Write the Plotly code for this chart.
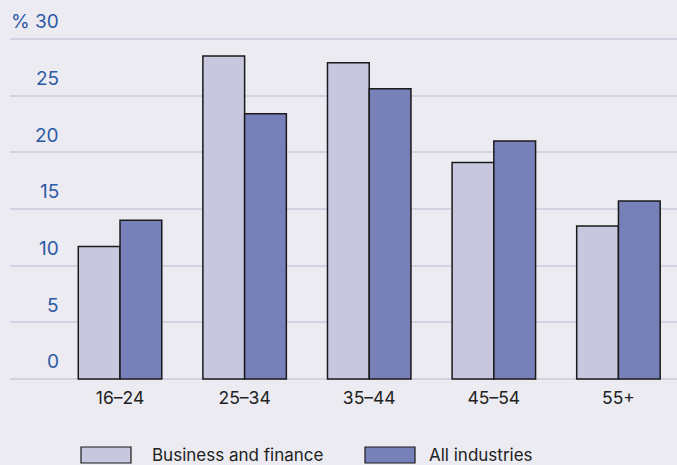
import plotly.graph_objects as go

# Share of employees by age band (%)
age_bands = ["16–24", "25–34", "35–44", "45–54", "55+"]
business_finance = [11.7, 28.5, 27.9, 19.1, 13.5]
all_industries = [14.0, 23.4, 25.6, 21.0, 15.7]
y_ticks = [0, 5, 10, 15, 20, 25, 30]
y_tick_labels = ["0", "5", "10", "15", "20", "25", "% 30"]

LIGHT = "#c7c7df"
DARK = "#7880b9"
BG = "#ecebf2"
GRID = "#d3d1e3"
BLUE_TEXT = "#2d5aa5"
FONT = "Inter"

W, H = 677, 465
ML, MR, MT, MB = 10, 0, 30, 80
PW, PH = W - ML - MR, H - MT - MB


def px_x(px):
    return (px - ML) / PW


def px_y(py):
    return (H - MB - py) / PH


xs = list(range(len(age_bands)))

fig = go.Figure()
fig.add_trace(go.Bar(
    x=xs, y=business_finance, name="Business and finance",
    marker=dict(color=LIGHT, line=dict(color="#1a1a1a", width=1.5)),
))
fig.add_trace(go.Bar(
    x=xs, y=all_industries, name="All industries",
    marker=dict(color=DARK, line=dict(color="#1a1a1a", width=1.5)),
))

# y tick labels sit above their gridlines
annotations = []
for v, t in zip(y_ticks, y_tick_labels):
    annotations.append(dict(
        x=px_x(61), xref="paper", xanchor="right",
        y=v, yref="y", yanchor="middle", yshift=17,
        text=t, showarrow=False,
        font=dict(family=FONT, size=19, color=BLUE_TEXT),
    ))

# legend drawn as wide swatches beneath the chart
legend_items = [("Business and finance", LIGHT, 81, 150), ("All industries", DARK, 365, 427)]
shapes = []
for name, col, x0, tx in legend_items:
    shapes.append(dict(
        type="rect", xref="paper", yref="paper",
        x0=px_x(x0), x1=px_x(x0 + 50), y0=px_y(463), y1=px_y(447),
        fillcolor=col, line=dict(color="#1a1a1a", width=1.2),
    ))
    annotations.append(dict(
        x=px_x(tx), xref="paper", xanchor="left",
        y=px_y(455), yref="paper", yanchor="middle",
        text=name, showarrow=False,
        font=dict(family=FONT, size=17, color="#222222"),
    ))

fig.update_layout(
    width=W, height=H,
    margin=dict(l=ML, r=MR, t=MT, b=MB),
    paper_bgcolor=BG, plot_bgcolor=BG,
    barmode="group", bargap=0.33, bargroupgap=0,
    showlegend=False,
    annotations=annotations, shapes=shapes,
    xaxis=dict(
        range=[-0.883, 4.47], tickvals=xs, ticktext=age_bands,
        showgrid=False, zeroline=False, showline=False, ticks="",
        tickfont=dict(family=FONT, size=17.5, color="#222222"),
    ),
    yaxis=dict(
        range=[-0.53, 30.79], tickvals=y_ticks, showticklabels=False,
        showgrid=True, gridcolor=GRID, gridwidth=2,
        zeroline=False, showline=False, ticks="",
    ),
)

fig.write_html("out.html")
